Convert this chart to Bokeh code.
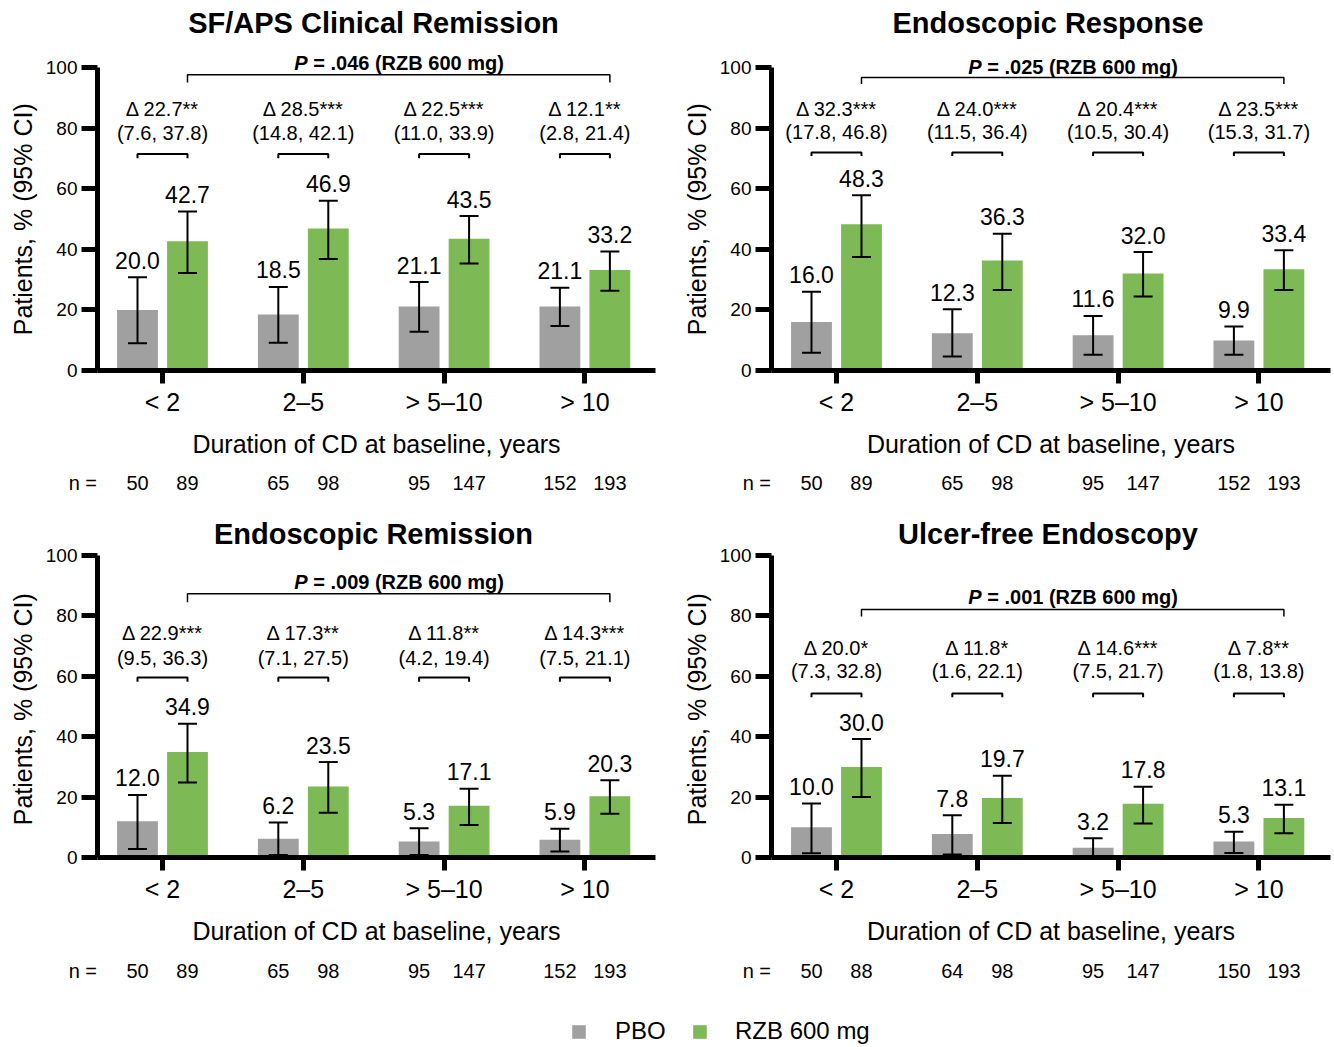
import numpy as np
from bokeh.plotting import figure
from bokeh.models import (ColumnDataSource, Range1d, FixedTicker, Whisker, TeeHead,
                          Legend, LegendItem)
from bokeh.layouts import row, column
from bokeh.embed import file_html
from bokeh.resources import INLINE
from bokeh.core.properties import value

# ---------------- data ----------------
categories = ["< 2", "2–5", "> 5–10", "> 10"]

sf_title = "SF/APS Clinical Remission"
sf_pbo = [20.0, 18.5, 21.1, 21.1]
sf_pbo_lo = [9.0, 9.2, 12.8, 14.7]
sf_pbo_hi = [30.8, 27.6, 29.2, 27.3]
sf_rzb = [42.7, 46.9, 43.5, 33.2]
sf_rzb_lo = [32.2, 36.8, 35.3, 26.3]
sf_rzb_hi = [52.5, 56.1, 51.0, 39.3]
sf_delta = [22.7, 28.5, 22.5, 12.1]
sf_stars = ["**", "***", "***", "**"]
sf_dci_lo = [7.6, 14.8, 11.0, 2.8]
sf_dci_hi = [37.8, 42.1, 33.9, 21.4]
sf_p = ".046"
sf_n_pbo = [50, 65, 95, 152]
sf_n_rzb = [89, 98, 147, 193]

er_title = "Endoscopic Response"
er_pbo = [16.0, 12.3, 11.6, 9.9]
er_pbo_lo = [5.9, 4.6, 5.2, 5.2]
er_pbo_hi = [26.0, 20.2, 18.0, 14.5]
er_rzb = [48.3, 36.3, 32.0, 33.4]
er_rzb_lo = [37.5, 26.6, 24.4, 26.6]
er_rzb_hi = [57.9, 45.2, 39.1, 39.7]
er_delta = [32.3, 24.0, 20.4, 23.5]
er_stars = ["***", "***", "***", "***"]
er_dci_lo = [17.8, 11.5, 10.5, 15.3]
er_dci_hi = [46.8, 36.4, 30.4, 31.7]
er_p = ".025"
er_n_pbo = [50, 65, 95, 152]
er_n_rzb = [89, 98, 147, 193]

em_title = "Endoscopic Remission"
em_pbo = [12.0, 6.2, 5.3, 5.9]
em_pbo_lo = [2.8, 0.8, 0.8, 2.0]
em_pbo_hi = [20.7, 11.6, 9.7, 9.5]
em_rzb = [34.9, 23.5, 17.1, 20.3]
em_rzb_lo = [24.8, 14.8, 10.8, 14.5]
em_rzb_hi = [44.3, 31.6, 22.8, 25.6]
em_delta = [22.9, 17.3, 11.8, 14.3]
em_stars = ["***", "**", "**", "***"]
em_dci_lo = [9.5, 7.1, 4.2, 7.5]
em_dci_hi = [36.3, 27.5, 19.4, 21.1]
em_p = ".009"
em_n_pbo = [50, 65, 95, 152]
em_n_rzb = [89, 98, 147, 193]

uf_title = "Ulcer-free Endoscopy"
uf_pbo = [10.0, 7.8, 3.2, 5.3]
uf_pbo_lo = [1.4, 1.0, 0.2, 1.5]
uf_pbo_hi = [17.9, 14.0, 6.4, 8.5]
uf_rzb = [30.0, 19.7, 17.8, 13.1]
uf_rzb_lo = [20.0, 11.4, 11.3, 8.0]
uf_rzb_hi = [39.2, 27.1, 23.4, 17.5]
uf_delta = [20.0, 11.8, 14.6, 7.8]
uf_stars = ["*", "*", "***", "**"]
uf_dci_lo = [7.3, 1.6, 7.5, 1.8]
uf_dci_hi = [32.8, 22.1, 21.7, 13.8]
uf_p = ".001"
uf_n_pbo = [50, 64, 95, 150]
uf_n_rzb = [88, 98, 147, 193]

series_names = ["PBO", "RZB 600 mg"]
y_label = "Patients, % (95% CI)"
x_label = "Duration of CD at baseline, years"

# ---------------- style ----------------
FONT = "Liberation Sans"
GRAY = "#A0A0A0"
GREEN = "#7DB955"
BLACK = "#000000"
OFF = 0.1775      # half distance between paired bars (category units)
BW = 0.29         # bar width (category units)
X_START = -0.4616
PXU = 140.8       # pixels per category unit

W_LEFT, W_RIGHT = 679, 654
MBL_LEFT, MBL_RIGHT = 97, 92
MBR_LEFT, MBR_RIGHT = 24, 3


def make_panel(title, pbo, pbo_lo, pbo_hi, rzb, rzb_lo, rzb_hi, delta, stars,
               dci_lo, dci_hi, pval, width, height, mb_left, mb_right, mb_top,
               mb_bottom, y_end, lay):
    x_end = X_START + (width - mb_left - mb_right) / PXU
    p = figure(width=width, height=height, output_backend="svg", toolbar_location=None,
               x_range=Range1d(X_START, x_end), y_range=Range1d(0, y_end),
               min_border_left=mb_left, min_border_right=mb_right,
               min_border_top=mb_top, min_border_bottom=mb_bottom)
    p.outline_line_color = None
    p.grid.visible = False

    xa = p.xaxis[0]
    xa.ticker = FixedTicker(ticks=[0, 1, 2, 3])
    xa.major_label_overrides = {i: c for i, c in enumerate(categories)}
    xa.axis_line_width = 5
    xa.axis_line_color = BLACK
    xa.major_tick_line_width = 5
    xa.major_tick_line_color = BLACK
    xa.major_tick_out = 13
    xa.major_tick_in = 0
    xa.minor_tick_line_color = None
    xa.major_label_text_font = FONT
    xa.major_label_text_font_size = "25px"
    xa.major_label_text_color = BLACK
    xa.major_label_standoff = 4
    xa.axis_label = x_label
    xa.axis_label_text_font = FONT
    xa.axis_label_text_font_size = "25px"
    xa.axis_label_text_font_style = "normal"
    xa.axis_label_text_color = BLACK
    xa.axis_label_standoff = 11

    ya = p.yaxis[0]
    ya.ticker = FixedTicker(ticks=[0, 20, 40, 60, 80, 100])
    ya.bounds = (0, 100)
    ya.axis_line_width = 5
    ya.axis_line_color = BLACK
    ya.major_tick_line_width = 5
    ya.major_tick_line_color = BLACK
    ya.major_tick_out = 16
    ya.major_tick_in = 0
    ya.minor_tick_line_color = None
    ya.major_label_text_font = FONT
    ya.major_label_text_font_size = "19px"
    ya.major_label_text_color = BLACK
    ya.major_label_standoff = 4
    # trailing no-break spaces keep the label centred on the 0-100 part of the axis
    ya.axis_label = y_label + "\u00a0" * lay["ylab_pad"]
    ya.axis_label_text_font = FONT
    ya.axis_label_text_font_size = "25px"
    ya.axis_label_text_font_style = "normal"
    ya.axis_label_text_color = BLACK
    ya.axis_label_standoff = 6

    # panel title (drawn inside the frame, above the axis bounds)
    p.text(x=[(X_START + x_end) / 2 - 3 / PXU], y=[lay["title_y"]], text=[title],
           text_align="center", text_baseline="middle", text_color=BLACK,
           text_font=value(FONT), text_font_size="29px", text_font_style="bold")

    idx = np.arange(len(categories), dtype=float)
    for vals, lo, hi, shift, color in ((pbo, pbo_lo, pbo_hi, -OFF, GRAY),
                                       (rzb, rzb_lo, rzb_hi, OFF, GREEN)):
        src = ColumnDataSource(dict(x=idx + shift, top=vals, lo=lo, hi=hi,
                                    lab=[f"{v:.1f}" for v in vals]))
        p.vbar(x="x", top="top", width=BW, bottom=0, source=src,
               fill_color=color, line_color=None)
        p.add_layout(Whisker(source=src, base="x", upper="hi", lower="lo",
                             line_width=2, line_color=BLACK, level="annotation",
                             upper_head=TeeHead(size=19, line_width=2, line_color=BLACK),
                             lower_head=TeeHead(size=19, line_width=2, line_color=BLACK)))
        p.text(x="x", y="hi", text="lab", source=src, y_offset=-17,
               text_align="center", text_baseline="middle", text_color=BLACK,
               text_font=value(FONT), text_font_size="23px")

    dsrc = ColumnDataSource(dict(
        x=idx,
        d=[f"Δ {v:.1f}{s}" for v, s in zip(delta, stars)],
        ci=[f"({a:.1f}, {b:.1f})" for a, b in zip(dci_lo, dci_hi)],
    ))
    p.text(x="x", y=lay["delta_y"], text="d", source=dsrc, text_align="center",
           text_baseline="middle", text_color=BLACK, text_font=value(FONT),
           text_font_size="20px")
    p.text(x="x", y=lay["ci_y"], text="ci", source=dsrc, text_align="center",
           text_baseline="middle", text_color=BLACK, text_font=value(FONT),
           text_font_size="20px")
    b, t = lay["br_y"], lay["br_tick"]
    p.multi_line(xs=[[i - OFF, i - OFF, i + OFF, i + OFF] for i in idx],
                 ys=[[b - t, b, b, b - t] for _ in idx], line_width=2, line_color=BLACK)

    pl, pt = lay["p_y"], lay["p_tick"]
    x0, x1 = idx[0] + OFF, idx[-1] + OFF
    p.multi_line(xs=[[x0, x0, x1, x1]], ys=[[pl - pt, pl, pl, pl - pt]],
                 line_width=1.5, line_color=BLACK)
    xc = (x0 + x1) / 2
    p.text(x=[xc], y=[lay["p_text"]], text=["P"], x_offset=-91, text_align="right",
           text_baseline="middle", text_color=BLACK, text_font=value(FONT),
           text_font_size="20px", text_font_style="bold italic")
    p.text(x=[xc], y=[lay["p_text"]], text=[f"\u00a0= {pval} (RZB 600 mg)"], x_offset=-91,
           text_align="left", text_baseline="middle", text_color=BLACK,
           text_font=value(FONT), text_font_size="20px", text_font_style="bold")
    return p


def make_nrow(n_pbo, n_rzb, width, mb_left, height, text_top, legend=None):
    start = X_START - mb_left / PXU
    p = figure(width=width, height=height, output_backend="svg", toolbar_location=None,
               x_range=Range1d(start, start + width / PXU), y_range=Range1d(0, height),
               x_axis_location=None, y_axis_location=None,
               min_border=0, min_border_left=0, min_border_right=0,
               min_border_top=0, min_border_bottom=0)
    p.outline_line_color = None
    p.grid.visible = False
    idx = np.arange(len(categories), dtype=float)
    xs = list(idx - OFF) + list(idx + OFF) + [X_START - 0.205]
    txt = [str(v) for v in list(n_pbo) + list(n_rzb)] + ["n ="]
    al = ["center"] * 8 + ["left"]
    src = ColumnDataSource(dict(x=xs, y=[height - text_top] * 9, t=txt, al=al))
    p.text(x="x", y="y", text="t", source=src, text_align="al", text_baseline="middle",
           text_color=BLACK, text_font=value(FONT), text_font_size="20px")
    if legend is not None:
        k, color, loc, standoff = legend
        # zero-height proxy bar: only used to draw the legend swatch
        r = p.vbar(x=[0], top=[0], bottom=[0], width=BW, fill_color=color,
                   line_color=None)
        leg = Legend(items=[LegendItem(label=series_names[k], renderers=[r])],
                     location=loc, orientation="horizontal", glyph_width=17,
                     glyph_height=17, label_standoff=standoff, padding=0, margin=0,
                     border_line_color=None, background_fill_alpha=0,
                     label_text_font=FONT, label_text_font_size="24px",
                     label_text_color=BLACK)
        p.add_layout(leg)
    return p


top_lay1 = dict(delta_y=86.5, ci_y=78.5, br_y=71.5, br_tick=1.4,
                p_y=97.7, p_tick=2.6, p_text=101.6, title_y=114.9, ylab_pad=9)
top_lay2 = dict(delta_y=86.5, ci_y=78.9, br_y=72.0, br_tick=1.2,
                p_y=96.8, p_tick=2.2, p_text=100.3, title_y=114.9, ylab_pad=9)
bot_lay1 = dict(delta_y=74.2, ci_y=66.2, br_y=59.6, br_tick=1.4,
                p_y=87.3, p_tick=2.8, p_text=91.2, title_y=107.0, ylab_pad=8)
bot_lay2 = dict(delta_y=69.5, ci_y=61.6, br_y=54.3, br_tick=1.2,
                p_y=82.1, p_tick=2.3, p_text=86.4, title_y=107.0, ylab_pad=8)

H_TOP, H_BOT = 470, 458
# top row: frame 5..370 px  -> 365 px / 3.028 px per unit
p1 = make_panel(sf_title, sf_pbo, sf_pbo_lo, sf_pbo_hi, sf_rzb, sf_rzb_lo, sf_rzb_hi,
                sf_delta, sf_stars, sf_dci_lo, sf_dci_hi, sf_p,
                W_LEFT, H_TOP, MBL_LEFT, MBR_LEFT, 5, 100, 120.54, top_lay1)
p2 = make_panel(er_title, er_pbo, er_pbo_lo, er_pbo_hi, er_rzb, er_rzb_lo, er_rzb_hi,
                er_delta, er_stars, er_dci_lo, er_dci_hi, er_p,
                W_RIGHT, H_TOP, MBL_RIGHT, MBR_RIGHT, 5, 100, 120.54, top_lay2)
# bottom row: frame 505..857 px -> 352 px / 3.02 px per unit
p3 = make_panel(em_title, em_pbo, em_pbo_lo, em_pbo_hi, em_rzb, em_rzb_lo, em_rzb_hi,
                em_delta, em_stars, em_dci_lo, em_dci_hi, em_p,
                W_LEFT, H_BOT, MBL_LEFT, MBR_LEFT, 5, 101, 116.56, bot_lay1)
p4 = make_panel(uf_title, uf_pbo, uf_pbo_lo, uf_pbo_hi, uf_rzb, uf_rzb_lo, uf_rzb_hi,
                uf_delta, uf_stars, uf_dci_lo, uf_dci_hi, uf_p,
                W_RIGHT, H_BOT, MBL_RIGHT, MBR_RIGHT, 5, 101, 116.56, bot_lay2)

n1 = make_nrow(sf_n_pbo, sf_n_rzb, W_LEFT, MBL_LEFT, 30, 12)
n2 = make_nrow(er_n_pbo, er_n_rzb, W_RIGHT, MBL_RIGHT, 30, 12)
n3 = make_nrow(em_n_pbo, em_n_rzb, W_LEFT, MBL_LEFT, 88, 12,
               legend=(0, GRAY, (570, 1), 28))
n4 = make_nrow(uf_n_pbo, uf_n_rzb, W_RIGHT, MBL_RIGHT, 88, 12,
               legend=(1, GREEN, (12, 1), 27))

layout = column(row(p1, p2), row(n1, n2), row(p3, p4), row(n3, n4))
open("out.html", "w").write(file_html(layout, INLINE))
